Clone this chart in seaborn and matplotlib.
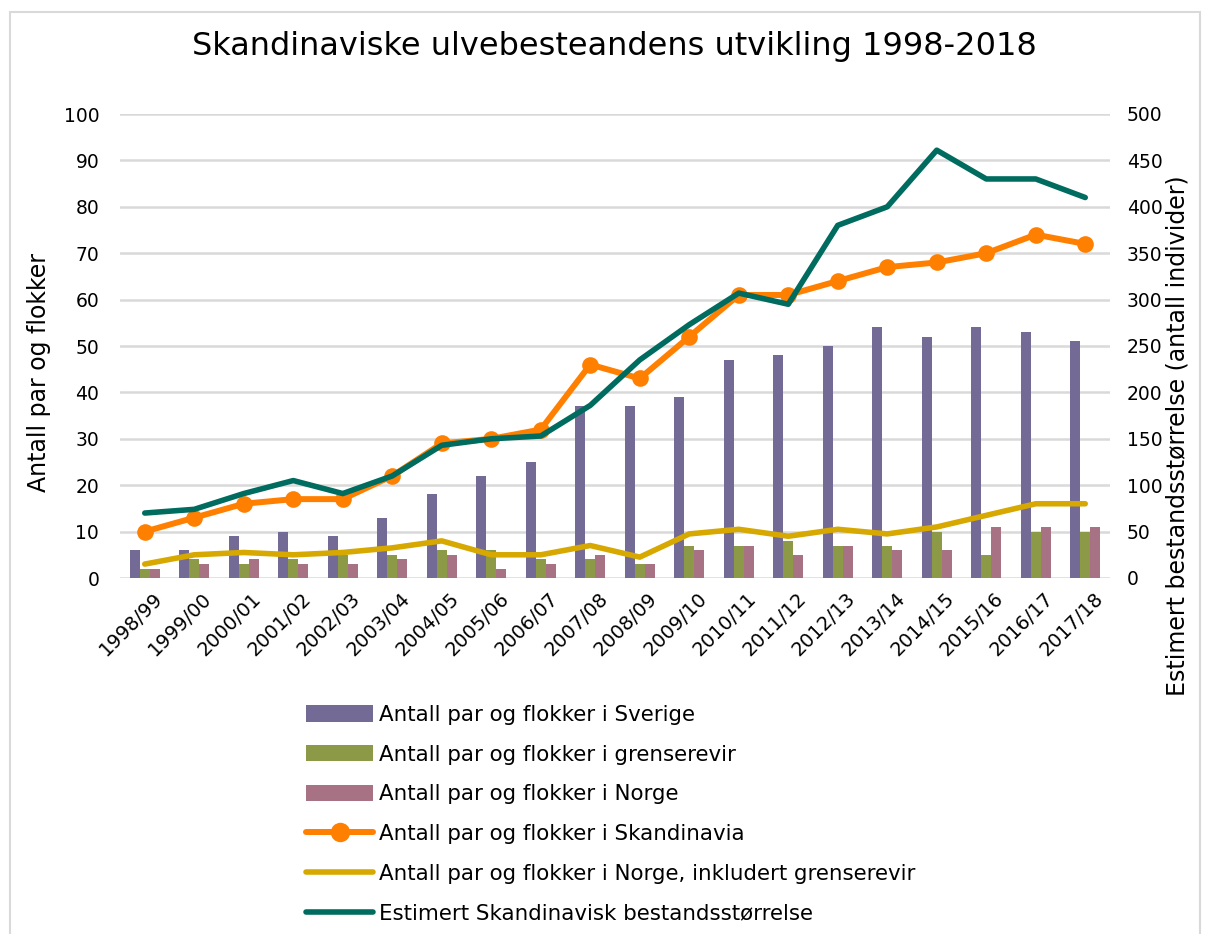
import numpy as np
import pandas as pd
import matplotlib.pyplot as plt
import matplotlib.transforms as mtransforms
import seaborn as sns
from matplotlib.patches import Patch, Rectangle
from matplotlib.lines import Line2D

# Sesonger og verdier
seasons = ['1998/99', '1999/00', '2000/01', '2001/02', '2002/03', '2003/04', '2004/05',
           '2005/06', '2006/07', '2007/08', '2008/09', '2009/10', '2010/11', '2011/12',
           '2012/13', '2013/14', '2014/15', '2015/16', '2016/17', '2017/18']
sverige = [6, 6, 9, 10, 9, 13, 18, 22, 25, 37, 37, 39, 47, 48, 50, 54, 52, 54, 53, 51]
grenserevir = [2, 4, 3, 4, 5, 5, 6, 6, 4, 4, 3, 7, 7, 8, 7, 7, 10, 5, 10, 10]
norge = [2, 3, 4, 3, 3, 4, 5, 2, 3, 5, 3, 6, 7, 5, 7, 6, 6, 11, 11, 11]
skandinavia = [10, 13, 16, 17, 17, 22, 29, 30, 32, 46, 43, 52, 61, 61, 64, 67, 68, 70, 74, 72]
norge_inkl = [3, 5, 5.5, 5, 5.5, 6.5, 8, 5, 5, 7, 4.5, 9.5, 10.5, 9, 10.5, 9.5, 11, 13.5, 16, 16]
bestand = [70, 74, 91, 105, 91, 110, 143, 150, 153, 186, 235, 273, 307, 295, 380, 400, 461, 430, 430, 410]

bar_names = ['Antall par og flokker i Sverige',
             'Antall par og flokker i grenserevir',
             'Antall par og flokker i Norge']
bar_colors = ['#736B95', '#8C9A47', '#A77384']
c_orange = '#FF8000'
c_yellow = '#D6A800'
c_teal = '#006B5F'
c_grid = '#D9D9D9'

sns.set_style('white')
plt.rcParams['font.family'] = ['DejaVu Sans']
plt.rcParams['text.color'] = 'black'
plt.rcParams['xtick.color'] = 'black'
plt.rcParams['ytick.color'] = 'black'

W, H = 1206, 934
fig = plt.figure(figsize=(W / 100, H / 100), dpi=100)
ax = fig.add_axes([120 / W, 1 - 578 / H, 990 / W, 464 / H])

bars = pd.DataFrame({
    'Sesong': seasons * 3,
    'Antall': sverige + grenserevir + norge,
    'Serie': [n for n in bar_names for _ in seasons],
})
sns.barplot(data=bars, x='Sesong', y='Antall', hue='Serie', hue_order=bar_names,
            palette=dict(zip(bar_names, bar_colors)), width=0.6, saturation=1,
            legend=False, ax=ax, zorder=2, linewidth=0, edgecolor='none')

x = np.arange(len(seasons))
sns.lineplot(x=x, y=skandinavia, ax=ax, color=c_orange, lw=4.3, marker='o',
             markersize=12, markeredgewidth=0, solid_joinstyle='round',
             solid_capstyle='round', zorder=3)
sns.lineplot(x=x, y=norge_inkl, ax=ax, color=c_yellow, lw=4,
             solid_joinstyle='round', solid_capstyle='round', zorder=3)

ax2 = ax.twinx()
sns.lineplot(x=x, y=bestand, ax=ax2, color=c_teal, lw=4,
             solid_joinstyle='round', solid_capstyle='round')

ax.set_xlim(-0.5, len(seasons) - 0.5)
ax.set_ylim(0, 100)
ax.set_yticks(range(0, 101, 10))
ax2.set_ylim(0, 500)
ax2.set_yticks(range(0, 501, 50))
ax.set_xticks(x)
ax.set_xticklabels(seasons, rotation=45, ha='right', rotation_mode='anchor')
ax.set_xlabel('')
ax.set_ylabel('')
ax2.set_ylabel('')

ax.set_axisbelow(True)
ax.yaxis.grid(True, color=c_grid, lw=1.8)
ax.xaxis.grid(False)
for a in (ax, ax2):
    for s in a.spines.values():
        s.set_visible(False)
ax.tick_params(axis='y', length=0, labelsize=13.5, pad=15)
ax.tick_params(axis='x', length=0, labelsize=14, pad=8)
ax2.tick_params(axis='y', length=0, labelsize=13.5, pad=12)

shift = mtransforms.ScaledTranslation(8 / 100, 0, fig.dpi_scale_trans)
for lbl in ax.get_xticklabels():
    lbl.set_transform(lbl.get_transform() + shift)

fig.text(614 / W, 1 - 47 / H, 'Skandinaviske ulvebesteandens utvikling 1998-2018',
         ha='center', va='center', fontsize=23)
fig.text(39 / W, 1 - 372 / H, 'Antall par og flokker', rotation=90,
         ha='center', va='center', fontsize=17)
fig.text(1177 / W, 1 - 436 / H, 'Estimert bestandsstørrelse (antall individer)',
         rotation=90, ha='center', va='center', fontsize=17)

handles = [Patch(color=c, lw=0) for c in bar_colors] + [
    Line2D([], [], color=c_orange, lw=4.3, marker='o', markersize=14,
           markeredgewidth=0, solid_capstyle='round'),
    Line2D([], [], color=c_yellow, lw=4, solid_capstyle='round'),
    Line2D([], [], color=c_teal, lw=4, solid_capstyle='round'),
]
labels = bar_names + ['Antall par og flokker i Skandinavia',
                      'Antall par og flokker i Norge, inkludert grenserevir',
                      'Estimert Skandinavisk bestandsstørrelse']
fig.legend(handles, labels, loc='upper left', bbox_to_anchor=(306 / W, 1 - 705 / H),
           frameon=False, fontsize=15.4, handlelength=3.15, handleheight=0.8,
           handletextpad=0.25, labelspacing=0.92, borderaxespad=0, borderpad=0)

fig.patches.append(Rectangle((10 / W, -0.05), 1190 / W, 1 - 12 / H + 0.05,
                             transform=fig.transFigure, fill=False,
                             ec=c_grid, lw=1.5))

fig.savefig('out.png', dpi=100)
